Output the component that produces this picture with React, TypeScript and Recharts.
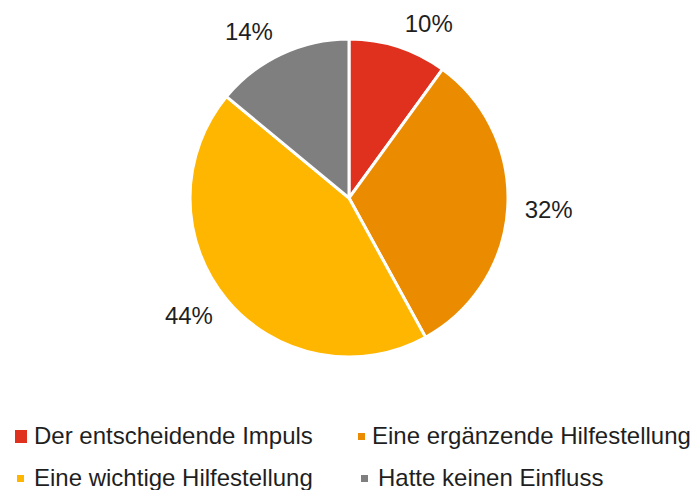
import { PieChart, Pie, Cell } from "recharts";

const categories = [
  "Der entscheidende Impuls",
  "Eine ergänzende Hilfestellung",
  "Eine wichtige Hilfestellung",
  "Hatte keinen Einfluss",
];
const shares = [10, 32, 44, 14];
const colors = ["#E0301E", "#EB8C00", "#FFB600", "#7F7F7F"];
// legend order: left column then right column, row by row
const legendOrder = [0, 1, 2, 3];
const swatchSizes = [12, 7, 7, 7];

const data = categories.map((name, i) => ({ name, value: shares[i] }));

const FONT = "'Liberation Sans', Arial, sans-serif";
const RAD = Math.PI / 180;

function renderLabel(props: any) {
  const { cx, cy, outerRadius, midAngle, value } = props;
  const ux = Math.cos(-midAngle * RAD);
  const uy = Math.sin(-midAngle * RAD);
  const ex = cx + outerRadius * ux;
  const ey = cy + outerRadius * uy;
  const x = ex + Math.sign(ux) * (26 + 15 * Math.abs(ux));
  const y = ey + 25 * uy;
  return (
    <text
      x={x}
      y={y}
      textAnchor="middle"
      dominantBaseline="central"
      fill="#1f1f1f"
      fontSize={24}
      fontFamily={FONT}
    >
      {value}%
    </text>
  );
}

function LegendBox() {
  return (
    <div
      style={{
        position: "absolute",
        left: 14,
        top: 422,
        display: "grid",
        gridTemplateColumns: "344px 325px",
        rowGap: 15,
        fontFamily: FONT,
        fontSize: 24,
        color: "#1f1f1f",
        lineHeight: "27px",
        whiteSpace: "nowrap",
      }}
    >
      {legendOrder.map((i) => (
        <div key={i} style={{ display: "flex", alignItems: "center", height: 27 }}>
          <div
            style={{
              width: 13,
              height: 27,
              display: "flex",
              justifyContent: "center",
              alignItems: "center",
              paddingTop: 1,
              boxSizing: "border-box",
            }}
          >
            <span
              style={{
                display: "inline-block",
                width: swatchSizes[i],
                height: i === 0 ? 13 : 7,
                background: colors[i],
              }}
            />
          </div>
          <span style={{ marginLeft: 7 }}>{categories[i]}</span>
        </div>
      ))}
    </div>
  );
}

export default function App() {
  return (
    <div
      style={{
        position: "absolute",
        top: 0,
        left: 0,
        width: 697,
        height: 490,
        background: "#fff",
      }}
    >
      <PieChart width={697} height={420} margin={{ top: 0, right: 0, bottom: 0, left: 0 }}>
        <Pie
          data={data}
          dataKey="value"
          nameKey="name"
          cx={349}
          cy={198}
          outerRadius={159}
          startAngle={90}
          endAngle={-270}
          stroke="#ffffff"
          strokeWidth={3}
          label={renderLabel}
          labelLine={false}
          isAnimationActive={false}
        >
          {data.map((_, i) => (
            <Cell key={`cell-${i}`} fill={colors[i]} />
          ))}
        </Pie>
      </PieChart>
      <LegendBox />
    </div>
  );
}
